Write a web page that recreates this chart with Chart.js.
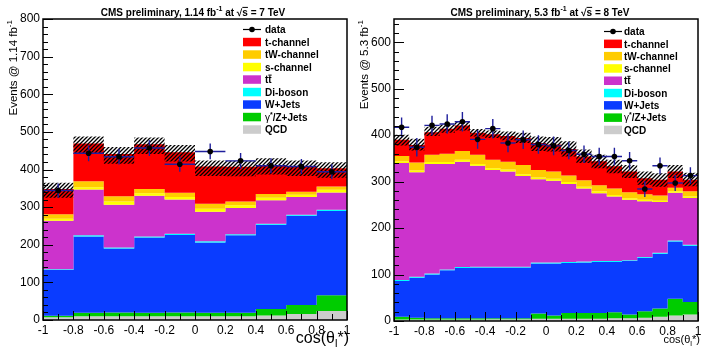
<!DOCTYPE html>
<html>
<head>
<meta charset="utf-8">
<script src="https://cdn.jsdelivr.net/npm/chart.js@4.4.1/dist/chart.umd.min.js"></script>
<style>
  html, body { margin: 0; padding: 0; background: #fff; }
  .panel { position: absolute; top: 0; width: 351px; height: 351px; }
</style>
</head>
<body>
<div class="panel" style="left:0"><canvas id="left" width="351" height="351"></canvas></div>
<div class="panel" style="left:351px"><canvas id="right" width="351" height="351"></canvas></div>
<script>
// samples, stacked bottom -> top
const sampleNames = ['QCD', 'γ*/Z+Jets', 'W+Jets', 'Di-boson', 'tt̄', 's-channel', 'tW-channel', 't-channel'];
const sampleColors = ['#cccccc', '#00cc00', '#0a3cff', '#00ffff', '#cc33cc', '#ffff00', '#ffcc00', '#ff0000'];

// 7 TeV, 1.14 fb-1
const edges7 = [-1, -0.8, -0.6, -0.4, -0.2, 0, 0.2, 0.4, 0.6, 0.8, 1];
const qcd7 = [7, 10, 10, 10, 10, 10, 10, 12, 16, 24];
const zjets7 = [4, 9, 10, 9, 10, 9, 9, 17, 24, 42];
const wjets7 = [122, 203, 170, 200, 206, 187, 206, 224, 237, 224];
const diboson7 = [2, 3, 3, 3, 3, 3, 3, 3, 3, 3];
const ttbar7 = [129, 122, 113, 108, 91, 79, 70, 62, 47, 46];
const schan7 = [5, 6, 9, 7, 7, 8, 7, 7, 6, 7];
const twchan7 = [12, 16, 14, 11, 11, 13, 10, 10, 8, 9];
const tchan7 = [67, 100, 112, 119, 108, 99, 92, 77, 67, 48];
const uncUp7 = [17, 19, 19, 18, 19, 16, 16, 18, 16, 16];
const uncDn7 = [23, 27, 26, 26, 25, 25, 25, 25, 25, 25];
const data7 = [344, 443, 434, 457, 414, 448, 423, 410, 408, 394];
const dataErr7 = [19, 21, 21, 21, 20, 21, 21, 20, 20, 20];

// 8 TeV, 5.3 fb-1
const edges8 = [-1, -0.9, -0.8, -0.7, -0.6, -0.5, -0.4, -0.3, -0.2, -0.1, 0,
                0.1, 0.2, 0.3, 0.4, 0.5, 0.6, 0.7, 0.8, 0.9, 1];
const qcd8 = [3, 3, 3, 3, 3, 3, 4, 4, 4, 5, 5, 5, 5, 5, 6, 6, 7, 9, 12, 14];
const zjets8 = [6, 4, 3, 3, 3, 3, 2, 2, 2, 11, 7, 12, 12, 12, 13, 8, 14, 18, 36, 27];
const wjets8 = [77, 86, 94, 103, 108, 109, 109, 109, 109, 108, 112, 108, 109, 110, 108, 115, 115, 118, 123, 121];
const diboson8 = [2, 2, 2, 2, 2, 2, 2, 2, 2, 2, 2, 2, 2, 2, 2, 2, 2, 2, 2, 2];
const ttbar8 = [252, 225, 236, 227, 227, 217, 208, 205, 195, 179, 176, 168, 157, 146, 139, 130, 120, 109, 103, 101];
const schan8 = [4, 4, 4, 4, 4, 4, 4, 4, 4, 4, 4, 4, 4, 4, 3, 3, 3, 3, 3, 3];
const twchan8 = [11, 17, 16, 18, 19, 20, 18, 17, 20, 16, 16, 14, 14, 13, 14, 13, 12, 11, 8, 11];
const tchan8 = [35, 38, 48, 54, 55, 47, 55, 55, 58, 58, 58, 57, 51, 52, 48, 45, 34, 34, 35, 25];
const uncUp8 = [11, 13, 12, 9, 9, 8, 8, 10, 11, 14, 16, 17, 15, 14, 14, 14, 15, 14, 14, 15];
const uncDn8 = [12, 12, 8, 9, 11, 8, 8, 9, 11, 17, 15, 16, 14, 15, 15, 14, 14, 15, 14, 14];
const data8 = [417, 374, 421, 424, 429, 391, 414, 383, 390, 380, 377, 367, 359, 354, 354, 345, 284, 334, 297, 313];
const dataErr8 = [21, 20, 21, 21, 21, 20, 21, 20, 20, 20, 20, 19, 19, 19, 19, 19, 17, 18, 17, 18];

const FONT = '"Liberation Sans", Arial, Helvetica, sans-serif';

function cumulate(layers) {
  let run = layers[0].map(() => 0);
  return layers.map(l => (run = run.map((r, i) => r + l[i])));
}

// step points at bin low edges, plus the closing edge
function steps(edges, vals) {
  const pts = vals.map((v, i) => ({ x: edges[i], y: v }));
  pts.push({ x: edges[edges.length - 1], y: vals[vals.length - 1] });
  return pts;
}

function errorSegments(edges, vals, errs) {
  const pts = [];
  vals.forEach((v, i) => {
    const c = (edges[i] + edges[i + 1]) / 2;
    pts.push({ x: edges[i], y: v }, { x: edges[i + 1], y: v }, { x: c, y: null });
    pts.push({ x: c, y: v - errs[i] }, { x: c, y: v + errs[i] }, { x: c, y: null });
  });
  return pts;
}

function hatchPattern() {
  const c = document.createElement('canvas');
  c.width = 4; c.height = 4;
  const g = c.getContext('2d');
  g.strokeStyle = '#000';
  g.lineWidth = 1.3;
  g.beginPath();
  g.moveTo(0, 4); g.lineTo(4, 0);
  g.moveTo(-1, 1); g.lineTo(1, -1);
  g.moveTo(3, 5); g.lineTo(5, 3);
  g.stroke();
  return g.createPattern(c, 'repeat');
}

// text with sup/sub/overline pieces
function drawRich(ctx, parts, x, y, size, weight, align) {
  const widths = parts.map(p => {
    const s = p.sup || p.sub ? size * 0.7 : size;
    ctx.font = (p.w || weight) + ' ' + s + 'px ' + FONT;
    return ctx.measureText(p.t).width;
  });
  const total = widths.reduce((a, b) => a + b, 0);
  let cx = align === 'center' ? x - total / 2 : align === 'right' ? x - total : x;
  ctx.textAlign = 'left';
  ctx.textBaseline = 'alphabetic';
  parts.forEach((p, i) => {
    const s = p.sup || p.sub ? size * 0.7 : size;
    ctx.font = (p.w || weight) + ' ' + s + 'px ' + FONT;
    const dy = p.sup ? -size * 0.42 : p.sub ? size * 0.25 : 0;
    ctx.fillText(p.t, cx, y + dy);
    if (p.over) {
      ctx.fillRect(cx, y - size * 0.86, widths[i], Math.max(1, size * 0.08));
    }
    cx += widths[i];
  });
}

function legendParts(name) {
  if (name === 'tt̄') return [{ t: 't' }, { t: 't', over: true }];
  if (name === 'γ*/Z+Jets') return [{ t: 'γ', w: 'normal' }, { t: '*', sup: true }, { t: '/Z+Jets' }];
  return [{ t: name }];
}

function makePlugin(p) {
  return {
    id: 'rootStyle',
    afterDatasetsDraw(chart) {
      const { ctx, chartArea: a, scales: { x, y } } = chart;
      ctx.save();
      ctx.strokeStyle = '#000';
      ctx.lineWidth = 1;
      for (let k = -10; k <= 10; k++) {
        const px = Math.round(x.getPixelForValue(k / 10)) + 0.5;
        const len = k % 2 === 0 ? 9 : 6;
        ctx.beginPath(); ctx.moveTo(px, a.bottom); ctx.lineTo(px, a.bottom - len); ctx.stroke();
      }
      for (let v = 0; v <= p.ymax; v += 20) {
        const py = Math.round(y.getPixelForValue(v)) + 0.5;
        const len = v % 100 === 0 ? 10 : 5;
        ctx.beginPath(); ctx.moveTo(a.left, py); ctx.lineTo(a.left + len, py); ctx.stroke();
      }
      ctx.lineWidth = 1.5;
      ctx.strokeRect(a.left, a.top, a.right - a.left, a.bottom - a.top);
      ctx.restore();
    },
    afterDraw(chart) {
      const ctx = chart.ctx;
      ctx.save();
      ctx.fillStyle = '#000';
      // legend
      const rows = ['data'].concat(sampleNames.slice().reverse());
      rows.forEach((name, j) => {
        const yc = p.legY + j * p.legDy;
        if (name === 'data') {
          ctx.strokeStyle = '#000';
          ctx.lineWidth = 1.2;
          ctx.beginPath(); ctx.moveTo(p.legX, yc); ctx.lineTo(p.legX + 18, yc); ctx.stroke();
          ctx.beginPath(); ctx.arc(p.legX + 9, yc, 2.8, 0, Math.PI * 2); ctx.fill();
        } else {
          ctx.fillStyle = sampleColors[sampleNames.indexOf(name)];
          ctx.fillRect(p.legX, yc - 4.2, 18, 8.5);
          ctx.fillStyle = '#000';
        }
        drawRich(ctx, legendParts(name), p.legTextX, yc + 3.7, 10, 'bold', 'left');
      });
      // title
      drawRich(ctx, p.title, p.titleX, 15.5, 10, 'bold', 'center');
      // y title (rotated, top aligned)
      ctx.save();
      ctx.translate(16.5, 20);
      ctx.rotate(-Math.PI / 2);
      drawRich(ctx, p.yTitle, 0, 0, 11.5, 'normal', 'right');
      ctx.restore();
      // x title
      drawRich(ctx, [{ t: 'cos(θ' }, { t: 'l', sub: true }, { t: '*)' }], 349, 343, p.xTitleSize, 'normal', 'right');
      ctx.restore();
    }
  };
}

function makePanel(canvasId, p) {
  const layers = p.layers;
  const cum = cumulate(layers);
  const total = cum[cum.length - 1];
  const n = layers.length;
  const datasets = [];
  layers.forEach((layer, i) => {
    datasets.push({
      label: sampleNames[i],
      data: steps(p.edges, cum[i]),
      stepped: 'before',
      borderWidth: 0,
      borderColor: 'transparent',
      backgroundColor: sampleColors[i],
      fill: i === 0 ? 'origin' : '-1',
      pointRadius: 0,
      order: 100 - i
    });
  });
  datasets.push({
    label: 'unc-lo',
    data: steps(p.edges, total.map((t, i) => t - p.dn[i])),
    stepped: 'before', borderWidth: 0, borderColor: 'transparent',
    pointRadius: 0, fill: false, order: 100 - n
  });
  datasets.push({
    label: 'unc-hi',
    data: steps(p.edges, total.map((t, i) => t + p.up[i])),
    stepped: 'before', borderWidth: 0, borderColor: 'transparent',
    backgroundColor: hatchPattern(),
    pointRadius: 0, fill: '-1', order: 100 - n - 1
  });
  datasets.push({
    label: 'data-err',
    data: errorSegments(p.edges, p.data, p.err),
    borderColor: '#1f1f9c', borderWidth: 1.4,
    pointRadius: 0, fill: false, spanGaps: false, order: 2
  });
  datasets.push({
    label: 'data',
    data: p.data.map((v, i) => ({ x: (p.edges[i] + p.edges[i + 1]) / 2, y: v })),
    showLine: false, pointRadius: 2.8,
    pointBackgroundColor: '#000', pointBorderWidth: 0, order: 1
  });

  const tickFont = { family: FONT, size: 12 };
  new Chart(document.getElementById(canvasId), {
    type: 'line',
    data: { datasets },
    options: {
      responsive: false,
      animation: false,
      devicePixelRatio: 1,
      events: [],
      layout: { padding: { top: 19, right: 2, left: 0, bottom: 0 } },
      plugins: { legend: { display: false }, tooltip: { enabled: false } },
      scales: {
        x: {
          type: 'linear', min: -1, max: 1,
          grid: { display: false, drawTicks: false },
          border: { display: false },
          ticks: {
            stepSize: 0.2, font: tickFont, color: '#000', padding: 3, maxRotation: 0, autoSkip: false,
            callback: v => String(Math.round(v * 10) / 10)
          },
          afterFit(s) { s.height = p.xAxisH; s.paddingLeft = 0; s.paddingRight = 0; }
        },
        y: {
          type: 'linear', min: 0, max: p.ymax,
          grid: { display: false, drawTicks: false },
          border: { display: false },
          ticks: { stepSize: 100, includeBounds: false, font: tickFont, color: '#000', padding: 3 },
          afterFit(s) { s.width = 43; s.paddingTop = 0; s.paddingBottom = 0; }
        }
      }
    },
    plugins: [makePlugin(p)]
  });
}

makePanel('left', {
  edges: edges7,
  layers: [qcd7, zjets7, wjets7, diboson7, ttbar7, schan7, twchan7, tchan7],
  up: uncUp7, dn: uncDn7, data: data7, err: dataErr7,
  ymax: 800, xAxisH: 31,
  legX: 243, legTextX: 265, legY: 29.5, legDy: 12.5,
  titleX: 193,
  title: [{ t: 'CMS preliminary, 1.14 fb' }, { t: '-1', sup: true }, { t: ' at ' }, { t: '√' }, { t: 's', over: true }, { t: ' = 7 TeV' }],
  yTitle: [{ t: 'Events @ 1.14 fb' }, { t: '-1', sup: true }],
  xTitleSize: 16
});

makePanel('right', {
  edges: edges8,
  layers: [qcd8, zjets8, wjets8, diboson8, ttbar8, schan8, twchan8, tchan8],
  up: uncUp8, dn: uncDn8, data: data8, err: dataErr8,
  ymax: 650, xAxisH: 30,
  legX: 253, legTextX: 273, legY: 31.5, legDy: 12.3,
  titleX: 189,
  title: [{ t: 'CMS preliminary, 5.3 fb' }, { t: '-1', sup: true }, { t: ' at ' }, { t: '√' }, { t: 's', over: true }, { t: ' = 8 TeV' }],
  yTitle: [{ t: 'Events @ 5.3 fb' }, { t: '-1', sup: true }],
  xTitleSize: 11
});
</script>
</body>
</html>
